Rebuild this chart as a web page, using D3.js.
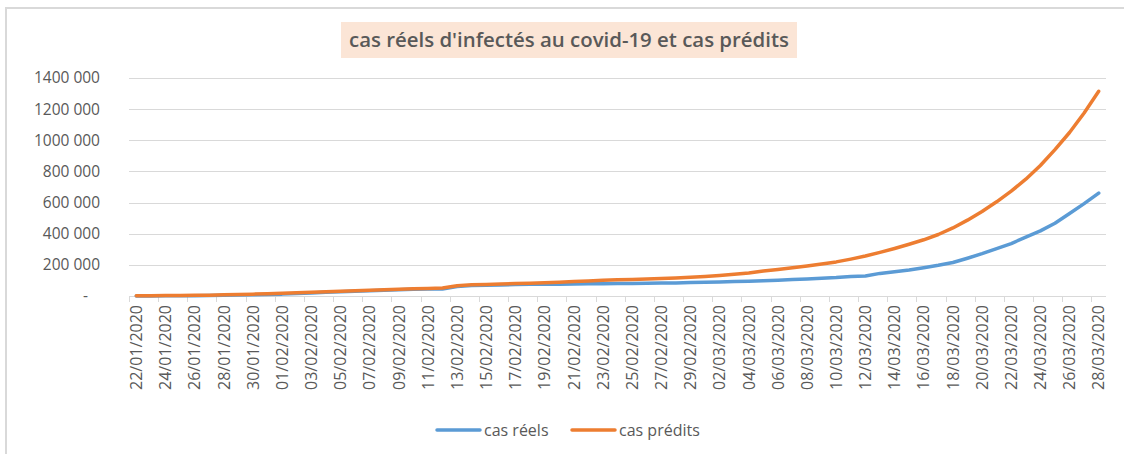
<!DOCTYPE html>
<meta charset="utf-8">
<head>
  <script src="https://d3js.org/d3.v7.min.js"></script>
  <style>
    body { margin: 0; background: #fff; }
    text { font-family: "Open Sans", sans-serif; fill: #595959; }
  </style>
</head>
<body>
<svg id="chart"></svg>
<script>
  // categories: one per day, 22/01/2020 -> 28/03/2020
  var startDay = new Date(2020, 0, 22), endDay = new Date(2020, 2, 29);
  var dates = d3.timeDay.range(startDay, endDay);

  // confirmed cases
  var casReels = [555, 654, 941, 1434, 2118, 2927, 5578, 6166, 8234, 9927,
    12038, 16787, 19887, 23898, 27643, 30802, 34395, 37129, 40160, 42769,
    44811, 45229, 60381, 66909, 69052, 71235, 73270, 75152, 75652, 76212,
    76841, 78602, 78982, 79546, 80399, 81376, 82736, 84120, 86011, 88369,
    90306, 92840, 95120, 97886, 101801, 105847, 109821, 113590, 118620, 125875,
    128352, 145205, 156101, 167454, 181574, 197102, 214821, 242570, 272208, 304507,
    336953, 378235, 418045, 467653, 529591, 593291, 660706];

  // predicted cases
  var casPredits = [2000, 2300, 2700, 3300, 4200, 5500, 7500, 9500, 12000, 14500,
    17500, 21000, 24500, 27500, 31000, 34000, 37500, 40500, 43500, 46000,
    48500, 51000, 66000, 72000, 74500, 77000, 79500, 82000, 85000, 89000,
    93000, 97000, 101000, 104000, 106500, 109000, 112000, 116000, 121000, 126000,
    132000, 139000, 148000, 160000, 170000, 181000, 193000, 205000, 219000, 237000,
    257000, 280000, 305000, 332000, 361000, 395000, 437000, 487000, 543000, 605000,
    673000, 750000, 838000, 940000, 1050000, 1175000, 1315000];

  var yTicks = [0, 200000, 400000, 600000, 800000, 1000000, 1200000, 1400000];
  var yTickLabels = ["-", "200 000", "400 000", "600 000", "800 000", "1000 000", "1200 000", "1400 000"];

  var seriesNames = ["cas réels", "cas prédits"];
  var seriesColors = ["#5B9BD5", "#ED7D31"];

  var W = 1124, H = 454;
  var svg = d3.select("#chart").attr("width", W).attr("height", H);

  // chart frame
  svg.append("rect").attr("x", 6).attr("y", 8).attr("width", W + 10).attr("height", H + 10)
    .attr("fill", "#fff").attr("stroke", "#d9d9d9").attr("stroke-width", 2);

  // title
  svg.append("rect").attr("x", 341).attr("y", 22).attr("width", 456).attr("height", 36)
    .attr("fill", "#FBE5D6");
  svg.append("text").attr("x", 569).attr("y", 47).attr("text-anchor", "middle")
    .attr("font-size", 19).attr("font-weight", 600)
    .attr("textLength", 440).attr("lengthAdjust", "spacingAndGlyphs")
    .text("cas réels d'infectés au covid-19 et cas prédits");

  var x = d3.scaleBand().domain(d3.range(dates.length)).range([129, 1106]);
  var y = d3.scaleLinear().domain([0, 1400000]).range([296, 78]);
  var bw = x.bandwidth();
  var fmt = d3.timeFormat("%d/%m/%Y");

  // gridlines + y labels
  svg.append("g").selectAll("line").data(yTicks).enter().append("line")
    .attr("x1", 129).attr("x2", 1106)
    .attr("y1", function(d){ return Math.round(y(d)) + 0.5; })
    .attr("y2", function(d){ return Math.round(y(d)) + 0.5; })
    .attr("stroke", "#d9d9d9").attr("stroke-width", 1.2);

  svg.append("g").selectAll("text").data(yTicks).enter().append("text")
    .attr("x", function(d, i){ return i == 0 ? 88 : 100; })
    .attr("y", function(d){ return y(d); })
    .attr("dy", "0.35em").attr("text-anchor", "end").attr("font-size", 15.5)
    .text(function(d, i){ return yTickLabels[i]; });

  // category tick marks every 2 days
  var tickIdx = d3.range(0, dates.length, 2);
  svg.append("g").selectAll("line").data(tickIdx).enter().append("line")
    .attr("x1", function(d){ return Math.round(x(d)) + 0.5; })
    .attr("x2", function(d){ return Math.round(x(d)) + 0.5; })
    .attr("y1", 296).attr("y2", 302)
    .attr("stroke", "#d9d9d9").attr("stroke-width", 1);

  svg.append("g").selectAll("text").data(tickIdx).enter().append("text")
    .attr("transform", function(d){ return "translate(" + (x(d) + bw / 2) + ",305) rotate(-90)"; })
    .attr("dy", "0.36em").attr("text-anchor", "end").attr("font-size", 16)
    .text(function(d){ return fmt(dates[d]); });

  // lines
  var line = d3.line()
    .x(function(d, i){ return x(i) + bw / 2; })
    .y(function(d){ return y(d); });

  [casReels, casPredits].forEach(function(s, k) {
    svg.append("path").datum(s)
      .attr("fill", "none").attr("stroke", seriesColors[k]).attr("stroke-width", 3.5)
      .attr("stroke-linejoin", "round").attr("stroke-linecap", "round")
      .attr("d", line);
  });

  // legend
  var legendX = [437, 572];
  seriesNames.forEach(function(n, k) {
    svg.append("line").attr("x1", legendX[k]).attr("x2", legendX[k] + 43)
      .attr("y1", 430).attr("y2", 430)
      .attr("stroke", seriesColors[k]).attr("stroke-width", 3.5).attr("stroke-linecap", "round");
    svg.append("text").attr("x", legendX[k] + 47).attr("y", 430).attr("dy", "0.35em")
      .attr("font-size", 16).text(n);
  });
</script>
</body>
